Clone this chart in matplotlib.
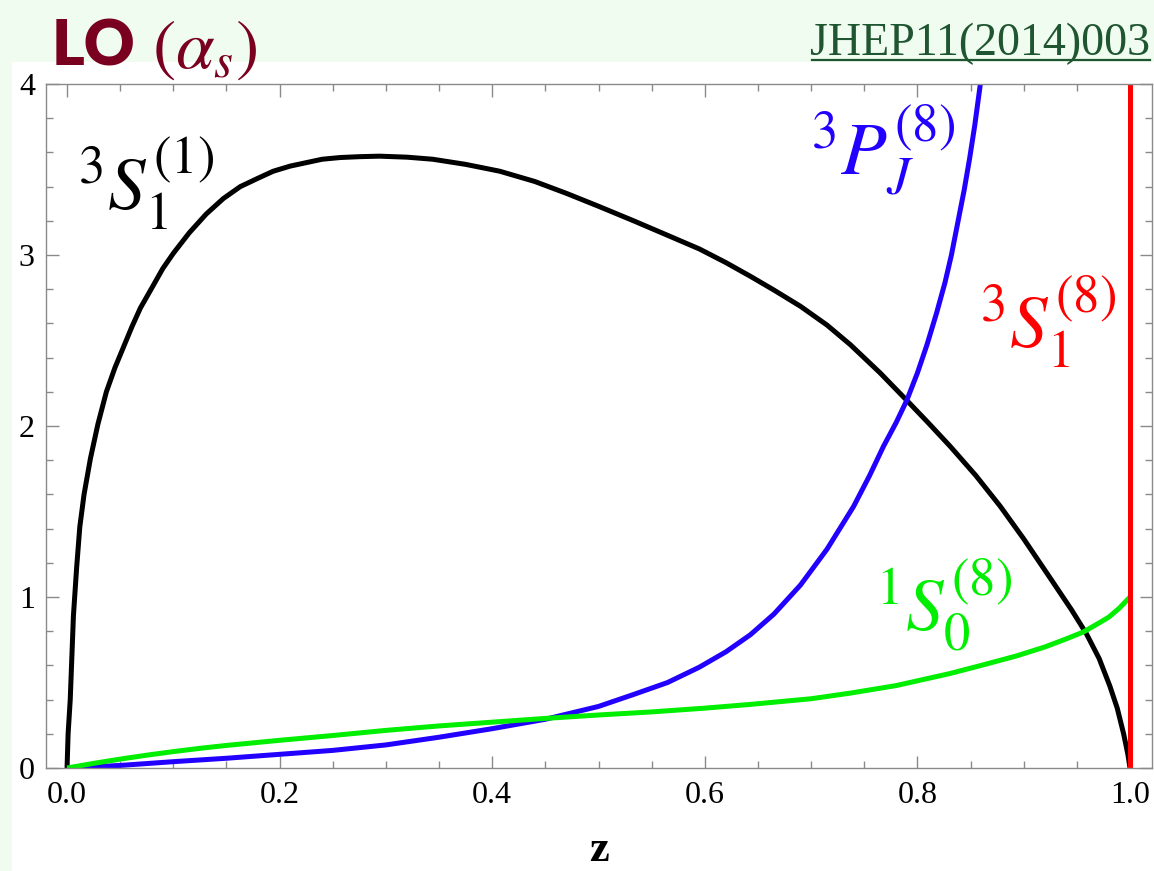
import matplotlib
matplotlib.use("Agg")
import matplotlib.pyplot as plt
from matplotlib.patches import Rectangle
from matplotlib.lines import Line2D
from matplotlib.ticker import MultipleLocator

plt.rcParams["mathtext.fontset"] = "stix"
plt.rcParams["font.family"] = ["Liberation Serif", "DejaVu Serif"]

# LO z-distributions for each NRQCD channel
z_singlet = [0.0, 0.001, 0.003, 0.006, 0.009, 0.012, 0.016, 0.022, 0.029, 0.037,
             0.045, 0.053, 0.061, 0.069, 0.08, 0.09, 0.10, 0.115, 0.131, 0.147,
             0.163, 0.18, 0.194, 0.21, 0.225, 0.24, 0.257, 0.275, 0.294, 0.32,
             0.344, 0.375, 0.407, 0.44, 0.47, 0.50, 0.533, 0.565, 0.595, 0.62,
             0.643, 0.665, 0.69, 0.715, 0.737, 0.765, 0.79, 0.81, 0.831, 0.855,
             0.878, 0.90, 0.925, 0.945, 0.959, 0.971, 0.981, 0.988, 0.994, 0.998,
             1.0]
d_singlet = [0.0, 0.20, 0.40, 0.89, 1.17, 1.41, 1.60, 1.81, 2.01, 2.20,
             2.34, 2.46, 2.58, 2.69, 2.81, 2.92, 3.01, 3.13, 3.24, 3.33,
             3.40, 3.45, 3.49, 3.52, 3.54, 3.56, 3.57, 3.575, 3.578, 3.572,
             3.56, 3.53, 3.49, 3.43, 3.36, 3.285, 3.20, 3.115, 3.035, 2.955,
             2.875, 2.795, 2.70, 2.59, 2.475, 2.31, 2.15, 2.02, 1.88, 1.71,
             1.53, 1.34, 1.11, 0.925, 0.785, 0.64, 0.48, 0.35, 0.20, 0.08,
             0.0]

z_3pj = [0.0, 0.05, 0.10, 0.15, 0.20, 0.25, 0.30, 0.35, 0.40, 0.45,
         0.50, 0.533, 0.565, 0.595, 0.62, 0.643, 0.665, 0.69, 0.715, 0.74,
         0.755, 0.768, 0.78, 0.79, 0.80, 0.809, 0.818, 0.826, 0.832, 0.838,
         0.844, 0.849, 0.854, 0.859, 0.864]
d_3pj = [0.0, 0.015, 0.037, 0.057, 0.08, 0.103, 0.135, 0.18, 0.23, 0.285,
         0.36, 0.43, 0.50, 0.59, 0.68, 0.78, 0.90, 1.07, 1.28, 1.53,
         1.71, 1.88, 2.02, 2.15, 2.31, 2.475, 2.66, 2.84, 3.00, 3.19,
         3.38, 3.56, 3.76, 3.99, 4.25]

z_1s0 = [0.0, 0.025, 0.05, 0.075, 0.10, 0.125, 0.15, 0.175, 0.20, 0.25,
         0.30, 0.35, 0.40, 0.45, 0.50, 0.55, 0.60, 0.643, 0.70, 0.737,
         0.78, 0.831, 0.86, 0.893, 0.92, 0.94, 0.956, 0.97, 0.98, 0.99, 1.0]
d_1s0 = [0.0, 0.027, 0.052, 0.075, 0.096, 0.115, 0.132, 0.147, 0.162, 0.19,
         0.22, 0.246, 0.268, 0.29, 0.31, 0.328, 0.35, 0.372, 0.405, 0.438,
         0.482, 0.553, 0.60, 0.655, 0.708, 0.755, 0.795, 0.845, 0.882, 0.935, 1.0]

# delta(1-z) for the 3S1 octet
z_3s1 = [1.0, 1.0]
d_3s1 = [0.0, 4.5]

W, H = 1154, 871
fig = plt.figure(figsize=(W / 100, H / 100), dpi=100, facecolor="#effcef")
fig.patches.append(Rectangle((12 / W, 0), 1 - 12 / W, 1 - 62 / H,
                             transform=fig.transFigure, facecolor="white",
                             edgecolor="none", zorder=-10))

ax = fig.add_axes([46 / W, 1 - 768 / H, (1152 - 46) / W, (768 - 84) / H],
                  zorder=2)
ax.set_facecolor("white")
ax.set_xlim(-0.0198, 1.0207)
ax.set_ylim(0, 4)

lw = 3.6
style = dict(lw=lw, solid_capstyle="butt", solid_joinstyle="round")
ax.plot(z_singlet, d_singlet, color="black", **style)
ax.plot(z_3pj, d_3pj, color="#2200ff", **style)
ax.plot(z_1s0, d_1s0, color="#00ee00", **style)
ax.plot(z_3s1, d_3s1, color="#ff0000", **style)

for s in ax.spines.values():
    s.set_color("#8a8a8a")
    s.set_linewidth(1.0)

ax.xaxis.set_major_locator(MultipleLocator(0.2))
ax.xaxis.set_minor_locator(MultipleLocator(0.05))
ax.yaxis.set_major_locator(MultipleLocator(1))
ax.yaxis.set_minor_locator(MultipleLocator(0.2))
ax.xaxis.set_major_formatter(plt.FuncFormatter(lambda v, p: f"{v:.1f}"))
ax.yaxis.set_major_formatter(plt.FuncFormatter(lambda v, p: f"{v:.0f}"))
ax.tick_params(which="both", direction="in", top=True, right=True,
               color="#8a8a8a", width=1.0, labelsize=23, labelcolor="black")
ax.tick_params(which="major", length=9)
ax.tick_params(which="minor", length=5)
ax.tick_params(axis="x", pad=9)
ax.tick_params(axis="y", pad=8)

ax.set_xlabel("z", fontsize=32, fontweight="bold", labelpad=15)

# channel labels
lab = dict(fontsize=54, va="baseline", ha="left")
ax.text(0.009, 3.27, r"$^{3}S_{1}^{(1)}$", color="black", **lab)
ax.text(0.699, 3.47, r"$^{3}P_{J}^{(8)}$", color="#2200ff", **lab)
ax.text(0.760, 0.80, r"$^{1}S_{0}^{(8)}$", color="#00ee00", **lab)
ax.text(0.858, 2.456, r"$^{3}S_{1}^{(8)}$", color="#ff0000", **lab)

# header
maroon = "#7a0020"
fig.text(52 / W, 1 - 65 / H, "LO", fontsize=45, fontweight="heavy",
         family=["Lato", "DejaVu Sans"], color=maroon, va="baseline", ha="left")
fig.text(152 / W, 1 - 68 / H, r"$(\alpha_s)$", fontsize=50, color=maroon,
         va="baseline", ha="left")

green = "#1f5530"
fig.text(1150 / W, 1 - 55 / H, "JHEP11(2014)003", fontsize=33, color=green,
         va="baseline", ha="right")
fig.add_artist(Line2D([812 / W, 1150 / W], [1 - 60 / H, 1 - 60 / H],
                      transform=fig.transFigure, color=green, lw=1.6))

fig.savefig("out.png", dpi=100, facecolor=fig.get_facecolor())
